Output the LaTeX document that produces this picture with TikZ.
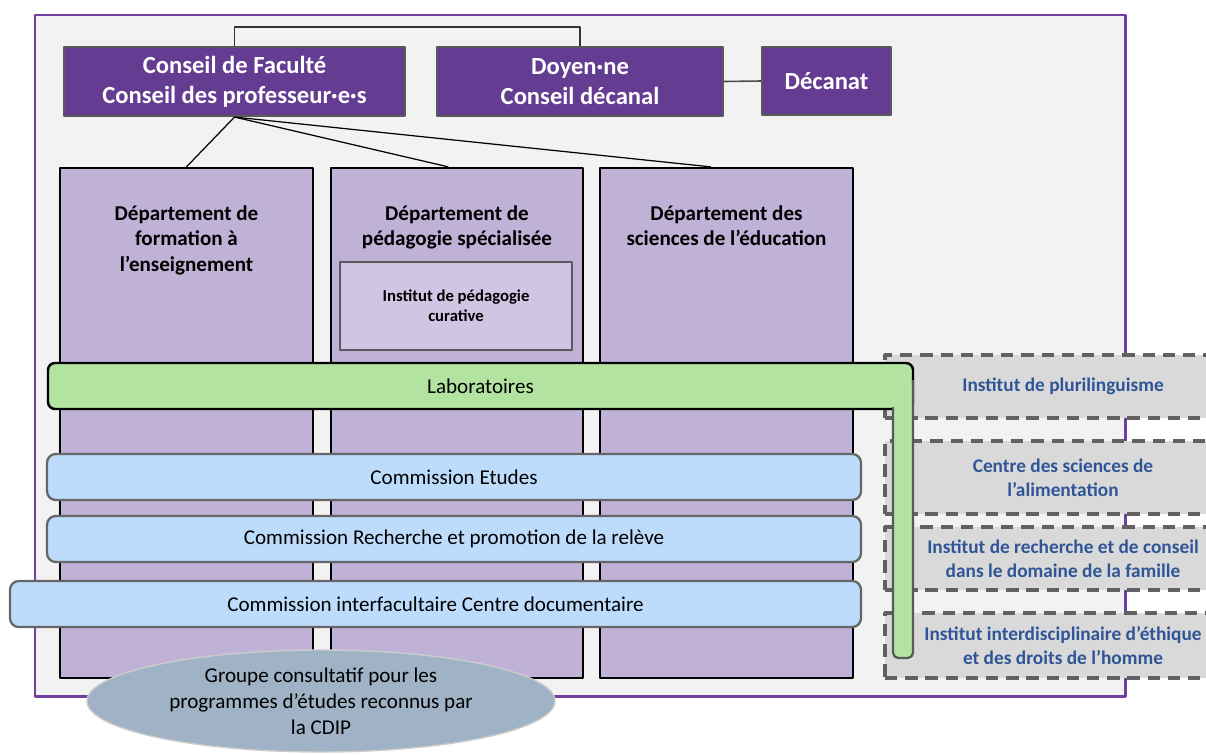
\documentclass[tikz,border=0pt]{standalone}
\usepackage{fontspec}
\setmainfont{Carlito}
\usetikzlibrary{positioning,shapes.geometric}
\definecolor{cadre}{RGB}{112,64,160}
\definecolor{fondgris}{RGB}{242,242,242}
\definecolor{violet}{RGB}{100,60,145}
\definecolor{depfond}{RGB}{191,178,214}
\definecolor{instfond}{RGB}{208,198,227}
\definecolor{labovert}{RGB}{178,227,161}
\definecolor{combleu}{RGB}{189,220,252}
\definecolor{groupebleu}{RGB}{159,178,198}
\definecolor{bleutexte}{RGB}{47,85,151}
\tikzset{
  haut/.style={draw=black!65, line width=1.2pt, fill=violet, text=white, align=center,
    font=\bfseries\fontsize{14}{17}\selectfont, inner sep=0pt},
  dep/.style={draw=black, line width=1.3pt, fill=depfond, inner sep=0pt},
  deptxt/.style={align=center, font=\bfseries\fontsize{12}{14.7}\selectfont, inner sep=0pt, anchor=north},
  commission/.style={draw=black!60, line width=1.3pt, fill=combleu, rounded corners=5pt,
    font=\fontsize{12}{14.7}\selectfont, inner sep=0pt},
  institut/.style={draw=black!62, line width=1.8pt, dash pattern=on 7pt off 4.5pt, fill=black!15,
    text=bleutexte, align=center, font=\bfseries\fontsize{11}{13.6}\selectfont, inner sep=0pt}
}
\begin{document}
\begin{tikzpicture}[x=0.02cm, y=-0.02cm, line join=round]
  \def\pix{0.02cm}
  \useasboundingbox (0,0) rectangle (1206,754);
  % cadre de la faculte
  \draw[draw=cadre, line width=1.7pt, fill=fondgris] (35,15) rectangle (1125,696);

  \node[haut, minimum width=341*\pix, minimum height=69*\pix] (fac) at (234.5,81.5) {Conseil de Faculté\\Conseil des professeur·e·s};
  \node[haut, minimum width=286*\pix, minimum height=69*\pix] (doyen) at (580,81.5) {Doyen·ne\\Conseil décanal};
  \node[haut, minimum width=129*\pix, minimum height=68*\pix] (decanat) at (826.5,81) {Décanat};
  \draw[black!80, line width=0.7pt] (fac.north) -- ++(0,-19) -| (doyen.north);
  \draw[black!70, line width=0.9pt] (doyen.east) -- (decanat.west);

  % departements
  \node[dep, minimum width=253*\pix, minimum height=510*\pix] (d1) at (186.5,423) {};
  \node[dep, minimum width=252*\pix, minimum height=510*\pix] (d2) at (457,423) {};
  \node[dep, minimum width=253*\pix, minimum height=510*\pix] (d3) at (726.5,423) {};
  \node[deptxt, below=0.76cm of d1.north] (t1) {Département de\\formation à\\l’enseignement};
  \node[deptxt, below=0.76cm of d2.north] (t2) {Département de\\pédagogie spécialisée};
  \node[deptxt, below=0.76cm of d3.north] (t3) {Département des\\sciences de l’éducation};
  \draw[line width=0.7pt] (fac.south) -- (d1.north);
  \draw[line width=0.7pt] (fac.south) -- ([xshift=-5pt]d2.north);
  \draw[line width=0.7pt] (fac.south) -- ([xshift=-9pt]d3.north);
  \node[draw=black!65, line width=1.3pt, fill=instfond, minimum width=232*\pix, minimum height=88*\pix,
    align=center, inner sep=0pt, font=\bfseries\fontsize{9.5}{11.3}\selectfont] (cur) at (456,306) {Institut de pédagogie\\curative};

  % instituts rattaches
  \node[institut, minimum width=356*\pix, minimum height=63*\pix] (plur) at (1063,386.5) {Institut de plurilinguisme};
  \node[institut, minimum width=356*\pix, minimum height=73*\pix] (alim) at (1063,477.5) {Centre des sciences de\\l’alimentation};
  \node[institut, minimum width=356*\pix, minimum height=63*\pix] (fam) at (1063,558.5) {Institut de recherche et de conseil\\dans le domaine de la famille};
  \node[institut, minimum width=356*\pix, minimum height=65*\pix] (eth) at (1063,645.5) {Institut interdisciplinaire d’éthique\\et des droits de l’homme};

  % laboratoires
  \node[draw=black, line width=1.4pt, fill=labovert, rounded corners=4pt, minimum width=865*\pix,
    minimum height=46*\pix, inner sep=0pt, font=\fontsize{12}{14.7}\selectfont] (labo) at (480.5,386) {Laboratoires};
  \draw[draw=black!65, line width=1.3pt, fill=labovert, rounded corners=3pt]
    (893,407) -- (893,658) -- (913,658) -- (913,380);

  % commissions
  \node[commission, minimum width=814*\pix, minimum height=46*\pix] (cetu) at (454,477) {Commission Etudes};
  \node[commission, minimum width=814*\pix, minimum height=46*\pix] (crec) at (454,539) {Commission Recherche et promotion de la relève};
  \node[commission, minimum width=851*\pix, minimum height=46*\pix] (cdoc) at (435.5,604) {Commission interfacultaire Centre documentaire};

  \node[ellipse, draw=black!20, line width=0.8pt, fill=groupebleu, minimum width=468*\pix, minimum height=102*\pix,
    inner sep=0pt, align=center, font=\fontsize{12}{14.7}\selectfont] (cdip) at (321,701)
    {Groupe consultatif pour les\\programmes d’études reconnus par\\la CDIP};
\end{tikzpicture}
\end{document}
